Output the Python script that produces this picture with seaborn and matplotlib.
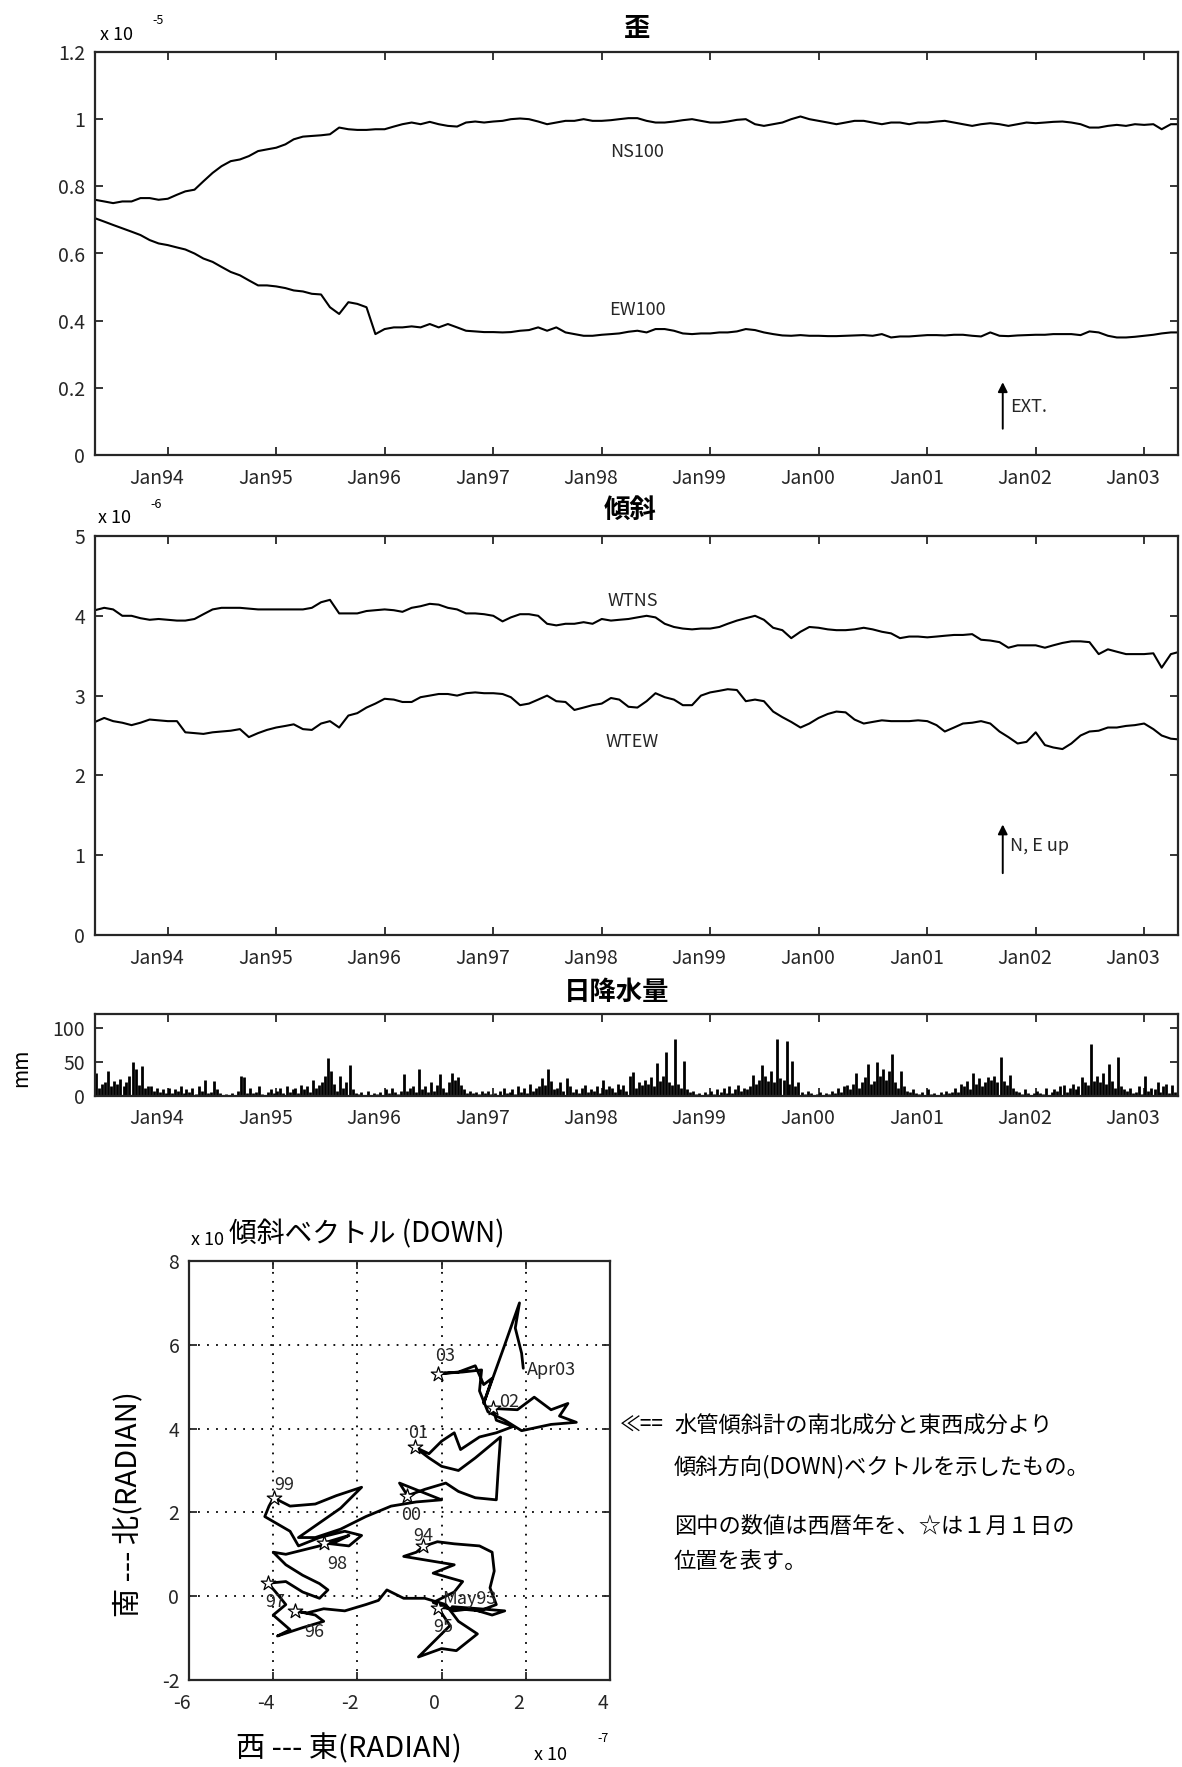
import numpy as np
import pandas as pd
import matplotlib
matplotlib.use("Agg")
import matplotlib.pyplot as plt
from matplotlib.transforms import ScaledTranslation
from datetime import datetime
import seaborn as sns

# ---------------- data ----------------
# monthly samples, May 1993 .. May 2003
months = pd.date_range("1993-05-01", "2003-05-01", freq="MS")

# strain, x 1e-5
ns100 = [0.76, 0.755, 0.75, 0.755, 0.755, 0.765, 0.765, 0.76,
         0.763, 0.775, 0.785, 0.79, 0.815, 0.84, 0.86, 0.875, 0.88, 0.89, 0.905, 0.91,
         0.915, 0.925, 0.94, 0.948, 0.95, 0.952, 0.955, 0.975, 0.97, 0.968, 0.968, 0.97,
         0.97, 0.978, 0.985, 0.99, 0.985, 0.992, 0.985, 0.98, 0.978, 0.99, 0.993, 0.99,
         0.993, 0.995, 1.0, 1.002, 1.0, 0.993, 0.985, 0.99, 0.995, 0.995, 1.0, 0.995,
         0.995, 0.997, 1.0, 1.003, 1.003, 0.995, 0.99, 0.99, 0.993, 0.997, 1.0, 0.995,
         0.99, 0.99, 0.993, 0.998, 1.0, 0.985, 0.98, 0.985, 0.99, 1.0, 1.008, 1.0,
         0.995, 0.99, 0.985, 0.99, 0.995, 0.995, 0.99, 0.985, 0.99, 0.99, 0.985, 0.99,
         0.99, 0.993, 0.995, 0.99, 0.985, 0.98, 0.985, 0.988, 0.985, 0.98, 0.985, 0.99,
         0.988, 0.99, 0.992, 0.993, 0.99, 0.985, 0.975, 0.975, 0.98, 0.983, 0.98, 0.985,
         0.983, 0.985, 0.97, 0.985, 0.985]
ew100 = [0.705, 0.695, 0.685, 0.675, 0.665, 0.655, 0.64, 0.63,
         0.625, 0.618, 0.612, 0.60, 0.585, 0.575, 0.56, 0.545, 0.535, 0.52, 0.505, 0.505,
         0.502, 0.497, 0.49, 0.487, 0.48, 0.478, 0.44, 0.42, 0.455, 0.45, 0.44, 0.36,
         0.375, 0.38, 0.38, 0.383, 0.38, 0.39, 0.38, 0.39, 0.38, 0.37, 0.368, 0.366,
         0.366, 0.365, 0.366, 0.37, 0.372, 0.38, 0.37, 0.38, 0.365, 0.36, 0.355, 0.355,
         0.358, 0.36, 0.362, 0.367, 0.37, 0.365, 0.375, 0.375, 0.37, 0.362, 0.36, 0.362,
         0.362, 0.365, 0.365, 0.368, 0.375, 0.372, 0.365, 0.36, 0.356, 0.355, 0.357, 0.355,
         0.355, 0.354, 0.354, 0.355, 0.356, 0.357, 0.355, 0.36, 0.35, 0.353, 0.353, 0.355,
         0.357, 0.357, 0.356, 0.358, 0.358, 0.355, 0.353, 0.365, 0.355, 0.354, 0.356, 0.357,
         0.358, 0.358, 0.36, 0.36, 0.36, 0.357, 0.368, 0.365, 0.355, 0.35, 0.35, 0.352,
         0.355, 0.358, 0.362, 0.365, 0.365]

# tilt, x 1e-6
wtns = [4.07, 4.1, 4.08, 4.0, 4.0, 3.97, 3.95, 3.96,
        3.95, 3.94, 3.94, 3.96, 4.02, 4.08, 4.1, 4.1, 4.1, 4.09, 4.08, 4.08,
        4.08, 4.08, 4.08, 4.08, 4.1, 4.17, 4.2, 4.03, 4.03, 4.03, 4.06, 4.07,
        4.08, 4.07, 4.05, 4.1, 4.12, 4.15, 4.14, 4.1, 4.08, 4.03, 4.03, 4.02,
        4.0, 3.93, 3.98, 4.02, 4.02, 4.0, 3.9, 3.88, 3.9, 3.9, 3.92, 3.9,
        3.96, 3.94, 3.95, 3.96, 3.98, 4.0, 3.98, 3.9, 3.86, 3.84, 3.83, 3.84,
        3.84, 3.86, 3.9, 3.94, 3.97, 4.0, 3.95, 3.85, 3.82, 3.72, 3.8, 3.86,
        3.85, 3.83, 3.82, 3.82, 3.83, 3.85, 3.83, 3.8, 3.78, 3.72, 3.74, 3.74,
        3.73, 3.74, 3.75, 3.76, 3.76, 3.77, 3.7, 3.69, 3.67, 3.6, 3.63, 3.63,
        3.63, 3.6, 3.63, 3.66, 3.68, 3.68, 3.67, 3.52, 3.58, 3.55, 3.52, 3.52,
        3.52, 3.53, 3.35, 3.52, 3.55]
wtew = [2.67, 2.72, 2.68, 2.66, 2.63, 2.66, 2.7, 2.69,
        2.68, 2.68, 2.54, 2.53, 2.52, 2.54, 2.55, 2.56, 2.58, 2.48, 2.53, 2.57,
        2.6, 2.62, 2.64, 2.58, 2.57, 2.65, 2.68, 2.6, 2.75, 2.78, 2.85, 2.9,
        2.96, 2.95, 2.92, 2.92, 2.98, 3.0, 3.02, 3.02, 3.0, 3.03, 3.04, 3.03,
        3.03, 3.02, 2.98, 2.88, 2.9, 2.95, 3.0, 2.93, 2.92, 2.82, 2.85, 2.88,
        2.9, 2.97, 2.95, 2.86, 2.85, 2.93, 3.03, 2.98, 2.95, 2.88, 2.88, 3.0,
        3.04, 3.06, 3.08, 3.07, 2.93, 2.95, 2.93, 2.8, 2.73, 2.67, 2.6, 2.65,
        2.72, 2.77, 2.8, 2.79, 2.7, 2.65, 2.67, 2.69, 2.68, 2.68, 2.68, 2.69,
        2.68, 2.63, 2.55, 2.6, 2.65, 2.66, 2.68, 2.65, 2.55, 2.48, 2.4, 2.42,
        2.54, 2.38, 2.35, 2.33, 2.4, 2.5, 2.55, 2.56, 2.6, 2.6, 2.62, 2.63,
        2.65, 2.58, 2.5, 2.46, 2.45]

# daily rainfall, mm (largest day in each ten-day period), May 1993 .. Apr 2003
rain_1993 = [34, 12, 18, 20, 36, 15, 22, 18, 25, 14, 20, 30, 50, 40, 16, 44, 12, 14, 15, 8, 12, 6, 10, 5]
rain_1994 = [12, 4, 10, 8, 14, 5, 10, 6, 12, 3, 14, 8, 24, 5, 6, 22, 10, 4,
             2, 3, 1, 4, 2, 8, 29, 28, 5, 12, 4, 6, 14, 3, 2, 6, 10, 4]
rain_1995 = [8, 12, 4, 14, 6, 10, 12, 5, 16, 10, 14, 6, 24, 12, 16, 20, 30, 55,
             36, 18, 8, 29, 12, 20, 46, 10, 4, 3, 6, 2, 8, 2, 5, 3, 6, 2]
rain_1996 = [10, 4, 12, 6, 3, 8, 32, 8, 12, 14, 6, 39, 10, 14, 6, 20, 8, 16,
             32, 12, 6, 20, 34, 24, 28, 16, 10, 4, 8, 5, 6, 3, 8, 4, 7, 3]
rain_1997 = [5, 2, 8, 12, 4, 6, 10, 3, 14, 6, 12, 5, 18, 8, 12, 14, 27, 16,
             39, 22, 10, 12, 20, 8, 27, 14, 6, 10, 4, 12, 16, 6, 10, 8, 14, 4]
rain_1998 = [24, 10, 14, 12, 6, 18, 10, 16, 8, 29, 35, 12, 20, 16, 24, 18, 28, 14,
             49, 22, 30, 64, 20, 16, 84, 18, 12, 51, 10, 6, 8, 3, 5, 2, 6, 3]
rain_1999 = [8, 3, 10, 6, 12, 4, 14, 5, 10, 16, 8, 12, 10, 14, 31, 18, 24, 45,
             30, 22, 36, 20, 83, 26, 24, 80, 18, 51, 14, 20, 6, 3, 8, 4, 2, 3]
rain_2000 = [6, 2, 4, 3, 8, 5, 12, 6, 14, 16, 10, 18, 34, 12, 20, 28, 47, 18,
             22, 50, 30, 40, 24, 36, 61, 20, 12, 36, 14, 8, 6, 10, 4, 3, 6, 2]
rain_2001 = [10, 3, 4, 2, 6, 3, 8, 4, 6, 12, 6, 18, 14, 22, 10, 34, 18, 26,
             14, 20, 28, 24, 30, 20, 57, 22, 16, 31, 12, 8, 6, 3, 10, 4, 2, 5]
rain_2002 = [8, 4, 3, 12, 2, 6, 10, 8, 14, 16, 6, 12, 18, 10, 14, 28, 20, 16,
             76, 22, 30, 20, 34, 18, 47, 22, 12, 57, 14, 10, 8, 12, 4, 6, 14, 3]
rain_2003 = [30, 8, 12, 10, 20, 6, 14, 18, 4, 16, 6, 10]

# tilt vector path (DOWN), x 1e-7 rad, May 1993 .. Apr 2003
vec_east = [0.25, 0.9, 1.5, 1.2, 0.7, 0.3, -0.2, 0.3, 0.5, -0.2, 0.3, -0.3, -0.9, -0.6, -0.43,
            -0.1, 0.3, 0.9, 1.2, 1.25, 1.15, 1.3, 0.9, 0.4, -0.09,
            0.2, -0.55, 0.0, 0.35, 0.85, 0.4, 0.1, -0.4, -0.9, -1.3, -1.5, -1.8, -2.3, -2.8, -3.2, -3.48,
            -3.0, -2.8, -3.3, -3.9, -3.6, -4.0, -3.7, -3.9, -4.12,
            -3.7, -3.3, -2.9, -2.7, -2.9, -3.3, -3.7, -4.0, -3.7, -3.3, -2.9, -2.5, -2.2, -2.8,
            -2.2, -1.9, -2.3, -2.9, -3.4, -3.6, -4.2, -4.1, -3.99,
            -3.6, -3.0, -2.5, -1.9, -2.4, -2.9, -3.4, -3.0, -2.4, -1.8, -1.2, -0.6, 0.0, -0.5, -1.0, -0.81,
            -0.4, 0.1, 0.4, 0.8, 1.3, 1.35, 1.4, 0.8, 0.4, 0.0, -0.3, -0.64,
            -0.3, 0.0, 0.3, 0.45, 0.9, 1.3, 1.7, 1.3, 1.22,
            1.8, 2.2, 2.6, 3.0, 2.8, 3.2, 2.6, 1.9, 1.5, 1.1, 0.9, 0.95, 0.5, -0.09,
            0.4, 0.8, 1.0, 1.2, 1.0, 1.5, 1.85, 1.75, 1.9, 1.94]
vec_north = [-0.25, -0.3, -0.35, -0.45, -0.3, -0.35, -0.15, 0.1, 0.35, 0.55, 0.75, 0.85, 0.95, 1.05, 1.19,
             1.3, 1.25, 1.2, 1.05, 0.6, 0.2, -0.2, -0.35, -0.3, -0.27,
             -0.7, -1.45, -1.25, -1.3, -0.9, -0.6, -0.2, -0.05, -0.05, 0.15, -0.1, -0.2, -0.35, -0.3, -0.4, -0.35,
             -0.45, -0.6, -0.75, -0.95, -0.8, -0.45, -0.2, 0.05, 0.31,
             0.35, 0.1, -0.05, 0.15, 0.3, 0.5, 0.75, 1.05, 1.0, 1.1, 1.2, 1.3, 1.45, 1.27,
             1.2, 1.45, 1.55, 1.4, 1.2, 1.55, 1.9, 2.15, 2.35,
             2.15, 2.2, 2.4, 2.6, 2.1, 1.75, 1.4, 1.4, 1.6, 1.9, 2.15, 2.25, 2.3, 2.5, 2.7, 2.4,
             2.55, 2.7, 2.5, 2.35, 2.3, 3.1, 3.8, 3.3, 3.0, 3.1, 3.3, 3.56,
             3.4, 3.7, 3.9, 3.5, 3.8, 3.9, 4.05, 4.2, 4.48,
             4.45, 4.75, 4.45, 4.6, 4.3, 4.15, 4.1, 3.95, 4.2, 4.4, 4.9, 5.4, 5.35, 5.31,
             5.35, 5.5, 5.05, 5.2, 4.6, 6.0, 7.0, 6.4, 5.8, 5.44]

# Jan 1 positions (stars) and their year labels
star_years = ["94", "95", "96", "97", "98", "99", "00", "01", "02", "03"]
star_east = [-0.43, -0.09, -3.48, -4.12, -2.8, -3.99, -0.81, -0.64, 1.22, -0.09]
star_north = [1.19, -0.27, -0.35, 0.31, 1.27, 2.35, 2.4, 3.56, 4.48, 5.31]
label_east = [-0.43, 0.03, -3.02, -3.95, -2.47, -3.74, -0.73, -0.56, 1.6, 0.08]
label_north = [1.44, -0.73, -0.85, -0.14, 0.77, 2.65, 1.94, 3.9, 4.64, 5.73]

year_ticks = [datetime(y, 1, 1) for y in range(1994, 2004)]
year_labels = ["Jan%02d" % (y % 100) for y in range(1994, 2004)]

# ---------------- style ----------------
sns.set_theme(style="ticks", rc={
    "xtick.direction": "in", "ytick.direction": "in",
    "xtick.top": True, "ytick.right": True,
    "axes.linewidth": 1.6, "xtick.major.width": 1.3, "ytick.major.width": 1.3,
    "xtick.major.size": 6, "ytick.major.size": 6,
    "axes.unicode_minus": False,
})
plt.rcParams["font.family"] = ["Noto Sans CJK JP", "DejaVu Sans"]
plt.rcParams["axes.unicode_minus"] = False

W, H = 1182, 1767
fig = plt.figure(figsize=(W / 100, H / 100), dpi=100)


def box(l, t, r, b):
    return fig.add_axes([l / W, 1 - b / H, (r - l) / W, (b - t) / H])


def ftext(x, y, s, **kw):
    kw.setdefault("va", "center")
    kw.setdefault("color", "black")
    return fig.text(x / W, 1 - y / H, s, **kw)


def shift_xlabels(ax, px):
    off = ScaledTranslation(px / 100, 0, fig.dpi_scale_trans)
    for lab in ax.get_xticklabels():
        lab.set_transform(lab.get_transform() + off)


x0, x1 = datetime(1993, 5, 1), datetime(2003, 4, 25)


def date_axis(ax):
    ax.set_xlim(x0, x1)
    ax.set_xticks(year_ticks)
    ax.set_xticklabels(year_labels, fontsize=14)
    ax.tick_params(axis="x", pad=9)
    ax.tick_params(axis="y", labelsize=14, pad=7)
    ax.set_xlabel("")
    ax.set_ylabel("")
    shift_xlabels(ax, -11)


# ---------------- strain ----------------
ax1 = box(95, 52, 1178, 455)
sns.lineplot(x=months, y=ns100, ax=ax1, color="black", linewidth=1.5)
sns.lineplot(x=months, y=ew100, ax=ax1, color="black", linewidth=1.5)
ax1.set_ylim(0, 1.2)
ax1.set_yticks([0, 0.2, 0.4, 0.6, 0.8, 1.0, 1.2])
ax1.set_yticklabels(["0", "0.2", "0.4", "0.6", "0.8", "1", "1.2"])
date_axis(ax1)
ax1.text(datetime(1998, 5, 1), 0.902, "NS100", fontsize=13, ha="center", va="center")
ax1.text(datetime(1998, 5, 1), 0.432, "EW100", fontsize=13, ha="center", va="center")
ax1.annotate("", xy=(datetime(2001, 9, 12), 0.225), xytext=(datetime(2001, 9, 12), 0.07),
             arrowprops=dict(arrowstyle="-|>", color="black", lw=1.4, mutation_scale=14))
ax1.text(datetime(2001, 10, 8), 0.143, "EXT.", fontsize=13, ha="left", va="center")
ftext(637, 28, "歪", fontsize=19, ha="center", fontweight="bold")
ftext(100, 35, "x 10", fontsize=13)
ftext(152, 20, "-5", fontsize=9)

# ---------------- tilt ----------------
ax2 = box(95, 536, 1178, 935)
sns.lineplot(x=months, y=wtns, ax=ax2, color="black", linewidth=1.5)
sns.lineplot(x=months, y=wtew, ax=ax2, color="black", linewidth=1.5)
ax2.set_ylim(0, 5)
ax2.set_yticks([0, 1, 2, 3, 4, 5])
date_axis(ax2)
ax2.text(datetime(1998, 4, 15), 4.19, "WTNS", fontsize=13, ha="center", va="center")
ax2.text(datetime(1998, 4, 15), 2.42, "WTEW", fontsize=13, ha="center", va="center")
ax2.annotate("", xy=(datetime(2001, 9, 12), 1.42), xytext=(datetime(2001, 9, 12), 0.74),
             arrowprops=dict(arrowstyle="-|>", color="black", lw=1.4, mutation_scale=14))
ax2.text(datetime(2001, 10, 5), 1.12, "N, E up", fontsize=13, ha="left", va="center")
ftext(630, 510, "傾斜", fontsize=19, ha="center", fontweight="bold")
ftext(98, 518, "x 10", fontsize=13)
ftext(150, 504, "-6", fontsize=9)

# ---------------- daily rainfall ----------------
rain = (rain_1993 + rain_1994 + rain_1995 + rain_1996 + rain_1997 + rain_1998
        + rain_1999 + rain_2000 + rain_2001 + rain_2002 + rain_2003)
rain_months = pd.date_range("1993-05-01", "2003-04-01", freq="MS")
rain_days = [m + pd.Timedelta(days=d) for m in rain_months for d in (4, 14, 24)]
ax3 = box(95, 1014, 1178, 1096)
ax3.vlines(rain_days, 0, rain, color="black", linewidth=2.0)
ax3.set_ylim(0, 120)
ax3.set_yticks([0, 50, 100])
date_axis(ax3)
ftext(617, 992, "日降水量", fontsize=19, ha="center", fontweight="bold")
ftext(21, 1068, "mm", fontsize=15, ha="center", rotation=90)

# ---------------- tilt vector ----------------
ax4 = box(189, 1261, 610, 1680)
sns.lineplot(x=vec_east, y=vec_north, ax=ax4, sort=False, estimator=None,
             color="black", linewidth=2.0)
sns.scatterplot(x=star_east, y=star_north, ax=ax4, marker="*", s=120,
                facecolor="white", edgecolor="black", linewidth=0.9, zorder=5)
for yr, ex, ny in zip(star_years, label_east, label_north):
    ax4.text(ex, ny, yr, fontsize=13, ha="center", va="center")
ax4.text(0.67, -0.06, "May93", fontsize=13, ha="center", va="center")
ax4.text(2.6, 5.4, "Apr03", fontsize=13, ha="center", va="center")
ax4.set_xlim(-6, 4)
ax4.set_ylim(-2, 8)
ax4.set_xticks([-6, -4, -2, 0, 2, 4])
ax4.set_yticks([-2, 0, 2, 4, 6, 8])
ax4.grid(True, linestyle=(0, (1, 4)), color="black", linewidth=1.3)
ax4.tick_params(labelsize=14)
ax4.tick_params(axis="x", pad=9)
ax4.tick_params(axis="y", pad=7)
ax4.set_xlabel("")
ax4.set_ylabel("")
shift_xlabels(ax4, -7)
ftext(191, 1240, "x 10", fontsize=13)
ftext(229, 1234, "傾斜ベクトル (DOWN)", fontsize=20, ha="left")
ftext(236, 1749, "西 --- 東(RADIAN)", fontsize=21, ha="left")
ftext(534, 1755, "x 10", fontsize=13)
ftext(597, 1738, "-7", fontsize=9)
ftext(128, 1504, "南 --- 北(RADIAN)", fontsize=21, ha="center", rotation=90)

# ---------------- note ----------------
ftext(620, 1426, "≪==", fontsize=15)
ftext(674, 1426, "水管傾斜計の南北成分と東西成分より", fontsize=16)
ftext(674, 1467, "傾斜方向(DOWN)ベクトルを示したもの。", fontsize=16)
ftext(674, 1526, "図中の数値は西暦年を、☆は１月１日の", fontsize=16)
ftext(674, 1561, "位置を表す。", fontsize=16)

fig.savefig("out.png", dpi=100, facecolor="white")
